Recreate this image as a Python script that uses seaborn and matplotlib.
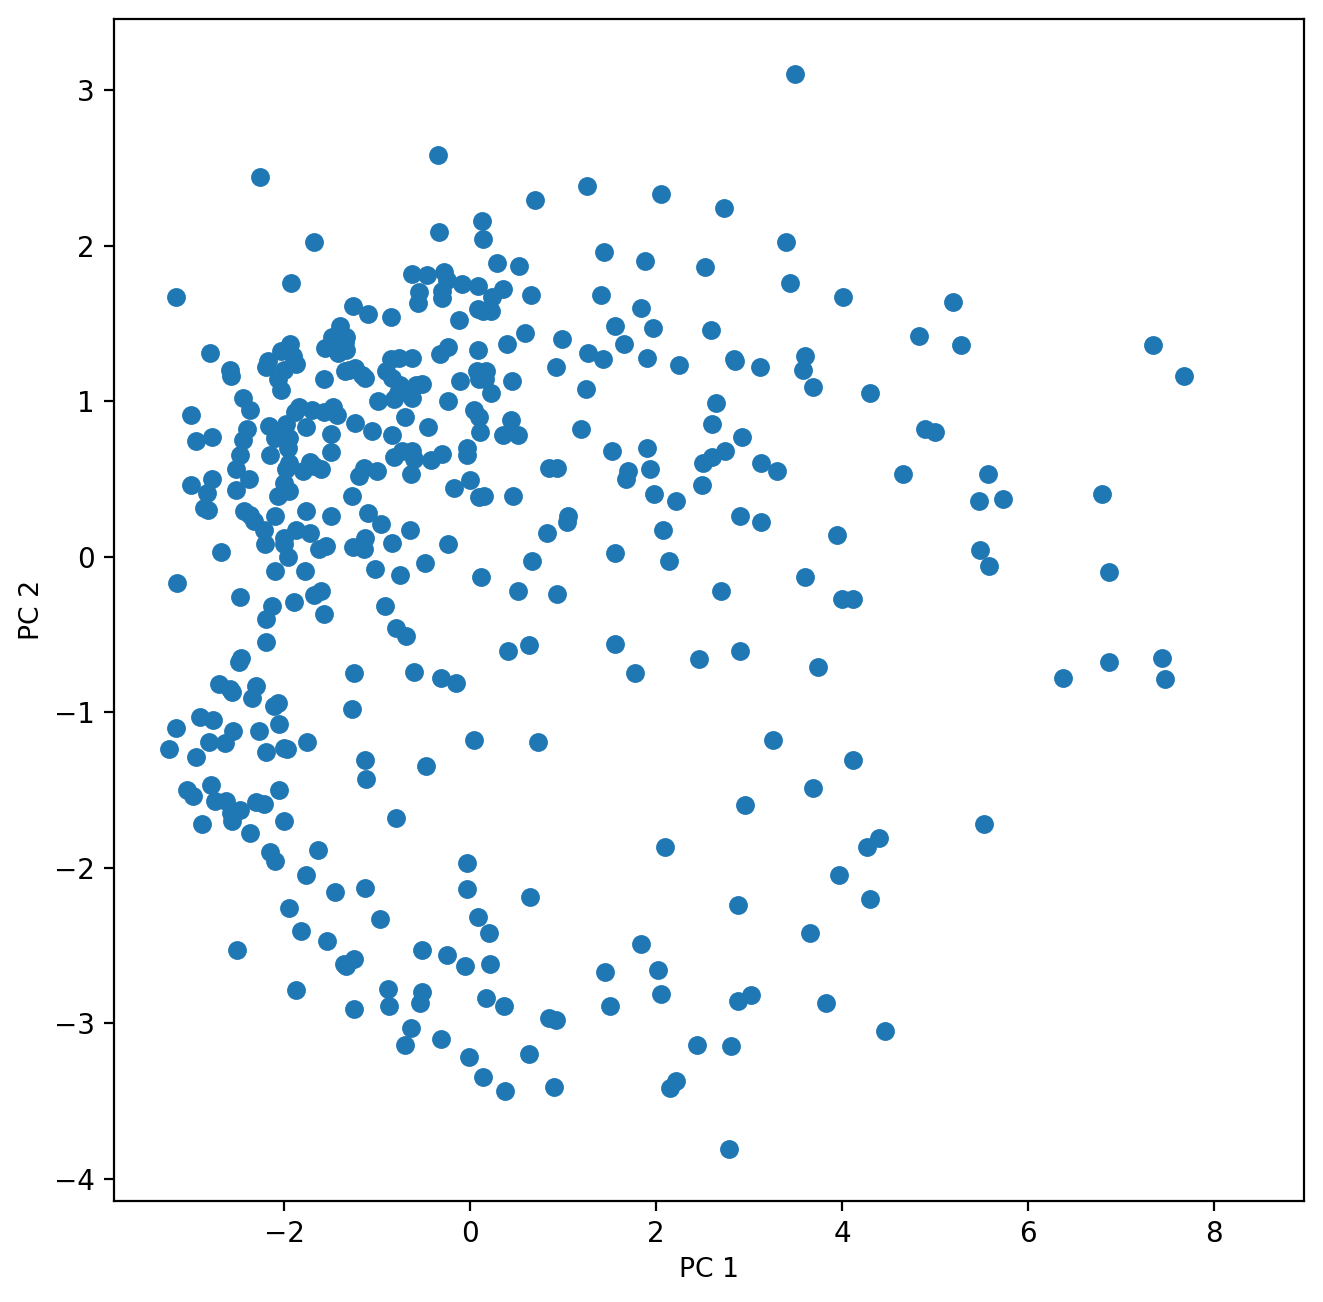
import matplotlib
matplotlib.use("Agg")
import matplotlib.pyplot as plt
import pandas as pd
import seaborn as sns

points = [
(3.50,3.10),(-0.34,2.58),(-2.26,2.44),(1.26,2.38),(2.05,2.33),(0.70,2.29),(2.73,2.24),(0.13,2.16),(-0.33,2.09),(0.14,2.04),
(-1.68,2.02),(3.40,2.02),(1.44,1.96),(1.88,1.90),(0.29,1.89),(0.53,1.87),(2.53,1.86),(-0.63,1.82),(-0.46,1.81),(-0.28,1.83),
(-0.25,1.78),(-0.09,1.75),(0.08,1.74),(3.44,1.76),(-1.93,1.76),(-0.55,1.70),(-0.30,1.71),(-0.30,1.66),(0.35,1.72),(0.66,1.68),
(0.24,1.67),(1.41,1.68),(4.01,1.67),(-3.16,1.67),(5.19,1.64),(-0.56,1.63),(1.84,1.60),(0.09,1.59),(0.14,1.58),(0.22,1.58),
(-1.26,1.61),(-1.10,1.56),(-0.85,1.54),(-0.12,1.52),(1.56,1.48),(1.97,1.47),(2.59,1.46),(-1.40,1.48),(0.59,1.44),(4.83,1.42),
(-1.48,1.41),(-1.42,1.40),(-1.33,1.41),(0.99,1.40),(-1.56,1.34),(-1.40,1.36),(-1.50,1.37),(-1.35,1.38),(-1.42,1.31),(-1.33,1.33),
(5.28,1.36),(7.35,1.36),(0.40,1.37),(1.66,1.37),(-0.24,1.35),(-1.94,1.37),(-1.97,1.33),(-2.03,1.32),(-1.90,1.29),(-2.80,1.31),
(0.09,1.33),(-0.32,1.30),(1.27,1.31),(1.43,1.27),(3.60,1.29),(1.90,1.28),(2.84,1.27),(2.85,1.26),(-0.62,1.28),(-0.76,1.28),
(-0.85,1.27),(-2.17,1.26),(-2.19,1.22),(-1.87,1.24),(-2.00,1.20),(2.25,1.23),(3.12,1.22),(0.92,1.22),(-2.58,1.20),(-2.57,1.16),
(-1.35,1.19),(-1.24,1.21),(-1.30,1.20),(-1.16,1.17),(-1.13,1.15),(3.58,1.20),(-0.90,1.19),(-0.84,1.15),(0.07,1.19),(0.17,1.19),
(0.10,1.14),(0.16,1.14),(7.68,1.16),(-1.57,1.14),(-2.07,1.14),(-0.75,1.10),(-0.58,1.10),(-0.52,1.11),(-0.11,1.13),(0.45,1.13),
(1.25,1.08),(3.69,1.09),(-2.03,1.07),(0.22,1.05),(4.30,1.05),(-2.44,1.02),(-0.62,1.02),(-0.78,1.05),(-0.82,1.01),(-0.99,1.00),
(-0.24,1.00),(2.64,0.99),(-2.37,0.94),(-1.84,0.96),(-1.70,0.94),(-1.47,0.96),(-1.43,0.91),(-1.57,0.93),(-1.88,0.93),(0.04,0.94),
(0.10,0.90),(-0.70,0.90),(-3.00,0.91),(0.44,0.88),(-1.24,0.86),(2.60,0.85),(-1.98,0.85),(-2.16,0.84),(-2.40,0.82),(4.89,0.82),
(1.19,0.82),(-0.45,0.83),(-1.06,0.81),(-1.77,0.83),(-2.00,0.80),(-1.95,0.76),(-2.10,0.76),(5.00,0.80),(0.11,0.80),(0.35,0.78),
(0.52,0.78),(-0.84,0.78),(-1.50,0.79),(-2.78,0.77),(2.92,0.77),(-2.95,0.74),(-2.44,0.75),(-1.96,0.70),(-0.03,0.70),(-0.03,0.65),
(1.90,0.70),(2.74,0.68),(2.60,0.64),(1.53,0.68),(-1.50,0.67),(-2.48,0.65),(-2.15,0.65),(-0.82,0.64),(-0.63,0.68),(-0.73,0.68),
(-0.60,0.63),(-0.30,0.66),(-0.42,0.62),(3.13,0.60),(2.51,0.60),(-1.95,0.60),(-1.72,0.61),(-1.68,0.58),(-1.60,0.56),(-1.98,0.56),
(-1.80,0.55),(0.85,0.57),(0.94,0.57),(-1.00,0.55),(-1.14,0.57),(-1.20,0.52),(1.70,0.55),(1.68,0.50),(1.93,0.56),(3.30,0.55),
(-2.52,0.56),(5.57,0.53),(-0.64,0.53),(4.66,0.53),(-2.78,0.50),(-2.38,0.50),(0.00,0.49),(-2.00,0.47),(2.50,0.46),(-3.00,0.46),
(-0.17,0.44),(-2.52,0.43),(-1.95,0.42),(-2.83,0.41),(-2.07,0.39),(6.80,0.40),(-1.27,0.39),(1.98,0.40),(0.46,0.39),(0.15,0.39),
(0.10,0.38),(2.21,0.36),(5.47,0.36),(5.73,0.37),(-2.86,0.31),(-2.82,0.30),(-2.43,0.29),(-2.37,0.27),(-1.76,0.29),(-1.10,0.28),
(-1.50,0.26),(-2.10,0.26),(2.90,0.26),(1.05,0.26),(1.04,0.22),(3.13,0.22),(-2.32,0.23),(-0.96,0.21),(-1.87,0.17),(-0.65,0.17),
(2.07,0.17),(-1.72,0.15),(-2.22,0.17),(0.83,0.15),(3.95,0.14),(-1.13,0.12),(-2.00,0.12),(-2.21,0.08),(-2.00,0.08),(-0.84,0.09),
(-0.24,0.08),(-1.55,0.07),(-1.26,0.06),(-1.14,0.05),(-1.62,0.05),(-2.68,0.03),(5.48,0.04),(1.56,0.02),(-1.96,0.00),(0.67,-0.03),
(2.14,-0.03),(-0.49,-0.04),(5.58,-0.06),(-2.10,-0.09),(-1.78,-0.09),(-1.02,-0.08),(6.87,-0.10),(-0.75,-0.12),(0.12,-0.13),(3.60,-0.13),
(-3.15,-0.17),(-1.60,-0.22),(-1.68,-0.25),(0.52,-0.22),(2.70,-0.22),(0.93,-0.24),(-2.47,-0.26),(-1.89,-0.29),(4.00,-0.27),(4.12,-0.27),
(-0.91,-0.32),(-2.13,-0.32),(-1.57,-0.37),(-2.20,-0.40),(-0.80,-0.46),(-0.69,-0.51),(-2.20,-0.55),(1.56,-0.56),(0.63,-0.57),(0.41,-0.61),
(2.90,-0.61),(-2.46,-0.65),(-2.49,-0.68),(2.46,-0.66),(7.44,-0.65),(6.87,-0.68),(3.74,-0.71),(-1.25,-0.75),(1.77,-0.75),(-0.60,-0.74),
(-0.31,-0.78),(-0.15,-0.81),(6.38,-0.78),(7.48,-0.79),(-2.70,-0.82),(-2.58,-0.85),(-2.30,-0.83),(-2.56,-0.87),(-2.35,-0.91),(-2.07,-0.94),
(-2.11,-0.96),(-1.27,-0.98),(-2.90,-1.03),(-2.77,-1.05),(-2.05,-1.08),(-3.16,-1.10),(-2.55,-1.12),(-2.27,-1.12),(0.04,-1.18),(0.73,-1.19),
(3.26,-1.18),(-2.81,-1.19),(-2.64,-1.20),(-1.75,-1.19),(-2.00,-1.23),(-1.97,-1.24),(-2.20,-1.26),(-3.24,-1.24),(-2.95,-1.29),(-1.13,-1.31),
(4.12,-1.31),(-0.47,-1.35),(-1.12,-1.43),(-2.79,-1.47),(-3.05,-1.50),(-2.05,-1.50),(-2.98,-1.54),(3.69,-1.49),(-2.74,-1.57),(-2.62,-1.57),
(-2.30,-1.58),(-2.22,-1.59),(2.96,-1.60),(-2.48,-1.63),(-2.57,-1.65),(-2.56,-1.70),(-2.88,-1.72),(-2.00,-1.70),(-0.80,-1.68),(5.53,-1.72),
(-2.37,-1.78),(4.40,-1.81),(2.10,-1.87),(4.27,-1.87),(-1.64,-1.89),(-2.15,-1.90),(-2.10,-1.96),(-0.03,-1.97),(3.97,-2.05),(-1.77,-2.05),
(-1.13,-2.13),(-0.03,-2.14),(-1.45,-2.16),(0.64,-2.19),(4.30,-2.20),(2.88,-2.24),(-1.95,-2.26),(0.08,-2.32),(-0.97,-2.33),(-1.82,-2.41),
(0.20,-2.42),(3.66,-2.42),(-1.54,-2.47),(1.84,-2.49),(-2.51,-2.53),(-0.52,-2.53),(-0.25,-2.56),(-1.25,-2.59),(-1.36,-2.62),(-1.33,-2.63),
(-0.05,-2.63),(0.21,-2.62),(2.02,-2.66),(1.45,-2.67),(-1.87,-2.79),(-0.88,-2.78),(-0.52,-2.80),(2.05,-2.81),(3.02,-2.82),(0.17,-2.84),
(2.88,-2.86),(-0.54,-2.87),(-0.87,-2.89),(0.36,-2.89),(1.50,-2.89),(3.83,-2.87),(-1.25,-2.91),(0.85,-2.97),(0.92,-2.98),(-0.64,-3.03),
(4.46,-3.05),(-0.31,-3.10),(-0.70,-3.14),(2.44,-3.14),(2.81,-3.15),(-0.01,-3.22),(0.63,-3.20),(0.14,-3.35),(2.21,-3.37),(0.90,-3.41),
(2.15,-3.42),(0.38,-3.44),(2.79,-3.81),
]
pc1 = [p[0] for p in points]
pc2 = [p[1] for p in points]
df = pd.DataFrame({"PC 1": pc1, "PC 2": pc2})

sns.set_style("ticks", {"axes.grid": False})
plt.rcParams["font.family"] = ["DejaVu Sans"]
plt.rcParams["font.size"] = 10

fig = plt.figure(figsize=(1323/200, 1302/200), dpi=200)
ax = fig.add_axes([114/1323, 1-1200.5/1302, (1304-114)/1323, (1200.5-18.5)/1302])
sns.scatterplot(data=df, x="PC 1", y="PC 2", ax=ax, color="#1f77b4", s=46, linewidth=0, alpha=1)
ax.set_xlim(-3.83, 8.97)
ax.set_ylim(-4.141, 3.46)
ax.tick_params(direction="out", length=3.5, width=0.8, labelsize=10, color="black", labelcolor="black")
for side in ax.spines.values():
    side.set_visible(True)
    side.set_linewidth(0.8)
    side.set_edgecolor("black")
ax.set_xlabel("PC 1", fontsize=9.6, color="black", labelpad=3.2)
ax.set_ylabel("PC 2", fontsize=9.6, color="black", labelpad=3)
fig.savefig("out.png", dpi=200, facecolor="white")
